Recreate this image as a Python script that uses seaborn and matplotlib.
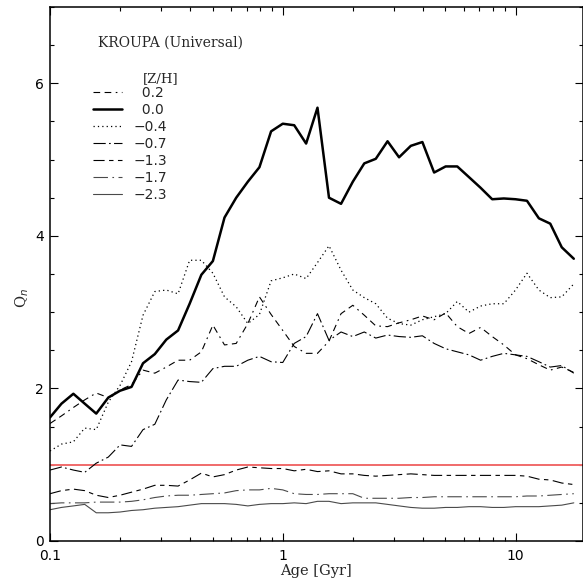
import matplotlib
matplotlib.use("Agg")
import matplotlib.pyplot as plt
import numpy as np
import pandas as pd
import seaborn as sns
from matplotlib.ticker import LogLocator, MultipleLocator, NullFormatter

# ---------------- data ----------------
ages = [0.1, 0.112, 0.126, 0.141, 0.158, 0.178, 0.2, 0.224, 0.251, 0.282,
        0.316, 0.355, 0.398, 0.447, 0.501, 0.562, 0.631, 0.708, 0.794, 0.891,
        1.0, 1.12, 1.26, 1.41, 1.58, 1.78, 2.0, 2.24, 2.51, 2.82,
        3.16, 3.55, 3.98, 4.47, 5.01, 5.62, 6.31, 7.08, 7.94, 8.91,
        10.0, 11.2, 12.6, 14.1, 15.8, 17.8]

zh_labels = ["\u20070.2", "\u20070.0", "\u22120.4", "\u22120.7", "\u22121.3", "\u22121.7", "\u22122.3"]

q_p02 = [1.54, 1.64, 1.75, 1.85, 1.94, 1.88, 1.98, 2.05, 2.24, 2.20,
         2.28, 2.37, 2.37, 2.48, 2.83, 2.57, 2.59, 2.85, 3.20, 2.97,
         2.76, 2.55, 2.46, 2.46, 2.62, 2.98, 3.09, 2.96, 2.82, 2.81,
         2.86, 2.90, 2.95, 2.90, 2.99, 2.81, 2.72, 2.80, 2.68, 2.57,
         2.44, 2.39, 2.31, 2.24, 2.28, 2.21]
q_000 = [1.62, 1.80, 1.93, 1.80, 1.67, 1.88, 1.97, 2.02, 2.33, 2.45,
         2.64, 2.76, 3.11, 3.49, 3.67, 4.24, 4.50, 4.71, 4.90, 5.37,
         5.47, 5.45, 5.21, 5.68, 4.50, 4.42, 4.71, 4.95, 5.01, 5.24,
         5.03, 5.18, 5.23, 4.83, 4.91, 4.91, 4.77, 4.63, 4.48, 4.49,
         4.48, 4.46, 4.23, 4.16, 3.85, 3.70]
q_m04 = [1.18, 1.27, 1.30, 1.48, 1.46, 1.82, 2.04, 2.35, 2.96, 3.27,
         3.29, 3.24, 3.68, 3.68, 3.51, 3.20, 3.07, 2.85, 2.97, 3.41,
         3.45, 3.50, 3.44, 3.65, 3.87, 3.55, 3.29, 3.19, 3.11, 2.92,
         2.85, 2.83, 2.90, 2.94, 2.98, 3.14, 3.00, 3.08, 3.11, 3.11,
         3.29, 3.51, 3.29, 3.19, 3.20, 3.37]
q_m07 = [0.93, 0.97, 0.93, 0.90, 1.02, 1.10, 1.26, 1.24, 1.46, 1.53,
         1.85, 2.11, 2.09, 2.08, 2.26, 2.29, 2.29, 2.37, 2.42, 2.35,
         2.34, 2.59, 2.68, 2.98, 2.63, 2.74, 2.68, 2.74, 2.66, 2.70,
         2.68, 2.67, 2.69, 2.59, 2.52, 2.48, 2.44, 2.37, 2.42, 2.46,
         2.44, 2.42, 2.35, 2.28, 2.30, 2.20]
q_m13 = [0.62, 0.66, 0.68, 0.66, 0.60, 0.57, 0.60, 0.64, 0.68, 0.73,
         0.73, 0.72, 0.80, 0.89, 0.84, 0.87, 0.93, 0.97, 0.96, 0.95,
         0.95, 0.92, 0.94, 0.91, 0.92, 0.88, 0.88, 0.86, 0.85, 0.86,
         0.87, 0.88, 0.87, 0.86, 0.86, 0.86, 0.86, 0.86, 0.86, 0.86,
         0.86, 0.85, 0.81, 0.80, 0.76, 0.74]
q_m17 = [0.49, 0.50, 0.50, 0.50, 0.51, 0.51, 0.51, 0.52, 0.54, 0.57,
         0.59, 0.60, 0.60, 0.61, 0.62, 0.63, 0.66, 0.67, 0.67, 0.69,
         0.67, 0.62, 0.61, 0.61, 0.62, 0.62, 0.62, 0.56, 0.56, 0.56,
         0.56, 0.57, 0.57, 0.58, 0.58, 0.58, 0.58, 0.58, 0.58, 0.58,
         0.58, 0.59, 0.59, 0.60, 0.61, 0.62]
q_m23 = [0.41, 0.44, 0.46, 0.48, 0.37, 0.37, 0.38, 0.40, 0.41, 0.43,
         0.44, 0.45, 0.47, 0.49, 0.49, 0.49, 0.48, 0.46, 0.48, 0.49,
         0.49, 0.50, 0.49, 0.52, 0.52, 0.49, 0.50, 0.50, 0.50, 0.48,
         0.46, 0.44, 0.43, 0.43, 0.44, 0.44, 0.45, 0.45, 0.44, 0.44,
         0.45, 0.45, 0.45, 0.46, 0.47, 0.50]

series = [q_p02, q_000, q_m04, q_m07, q_m13, q_m17, q_m23]
reference_level = 1.0

# ---------------- styling ----------------
sns.set_style("ticks")
plt.rcParams["font.family"] = ["DejaVu Sans"]
plt.rcParams["axes.linewidth"] = 1.1

line_styles = [
    dict(color="black", linewidth=0.8, linestyle=(0, (6, 4, 6, 4, 1.5, 4))),
    dict(color="black", linewidth=1.8, linestyle="-"),
    dict(color="black", linewidth=0.9, linestyle=(0, (1, 2.5))),
    dict(color="black", linewidth=0.8, linestyle=(0, (11, 3, 1.5, 3))),
    dict(color="black", linewidth=0.8, linestyle=(0, (10, 4, 4, 4))),
    dict(color="#4a4a4a", linewidth=0.8, linestyle=(0, (13, 4, 1.5, 4))),
    dict(color="#4a4a4a", linewidth=0.8, linestyle="-"),
]

W, H = 583, 581
fig = plt.figure(figsize=(W / 100, H / 100), dpi=100)
ax = fig.add_axes([50 / W, 40 / H, 532.5 / W, 534 / H])

for lab, vals, st in zip(zh_labels, series, line_styles):
    df = pd.DataFrame({"age": ages, "Q": vals})
    sns.lineplot(data=df, x="age", y="Q", ax=ax, label=lab, **st)

ax.axhline(reference_level, color="#f06a6a", linewidth=1.4, zorder=1)

ax.set_xscale("log")
ax.set_xlim(0.1, 19.4)
ax.set_ylim(0, 7)
ax.set_xticks([0.1, 1, 10])
ax.set_xticklabels(["0.1", "1", "10"])
ax.xaxis.set_minor_locator(LogLocator(base=10, subs=np.arange(2, 10)))
ax.xaxis.set_minor_formatter(NullFormatter())
ax.set_yticks([0, 2, 4, 6])
ax.set_yticklabels(["0", "2", "4", "6"])
ax.yaxis.set_minor_locator(MultipleLocator(0.5))

ax.tick_params(which="both", direction="in", top=True, right=True,
               labelsize=10, width=0.8, colors="black")
ax.tick_params(which="major", length=6)
ax.tick_params(axis="x", which="major", pad=6)
ax.tick_params(axis="y", which="major", pad=4.5)
ax.tick_params(which="minor", length=3.2)
for s in ax.spines.values():
    s.set_color("black")

ax.set_xlabel("Age [Gyr]", family="DejaVu Serif", fontsize=10.5)
ax.xaxis.set_label_coords(0.5, -0.043)
ax.set_ylabel("Q$_n$", family="DejaVu Serif", fontsize=10.5)
ax.yaxis.set_label_coords(-0.036, 0.455)

ax.text(0.090, 0.934, "KROUPA (Universal)", transform=ax.transAxes,
        family="DejaVu Serif", fontsize=10, ha="left", va="center")
ax.text(0.2085, 0.865, "[Z/H]", transform=ax.transAxes,
        family="DejaVu Serif", fontsize=9.5, ha="center", va="center")

handles, labels = ax.get_legend_handles_labels()
ax.legend(handles, labels, loc="upper left",
          bbox_to_anchor=(93 / W, 1 - 86 / H), bbox_transform=fig.transFigure,
          frameon=False, borderpad=0, borderaxespad=0, handlelength=2.1,
          handletextpad=0.8, labelspacing=0.22, fontsize=10)

fig.savefig("out.png", dpi=100)
